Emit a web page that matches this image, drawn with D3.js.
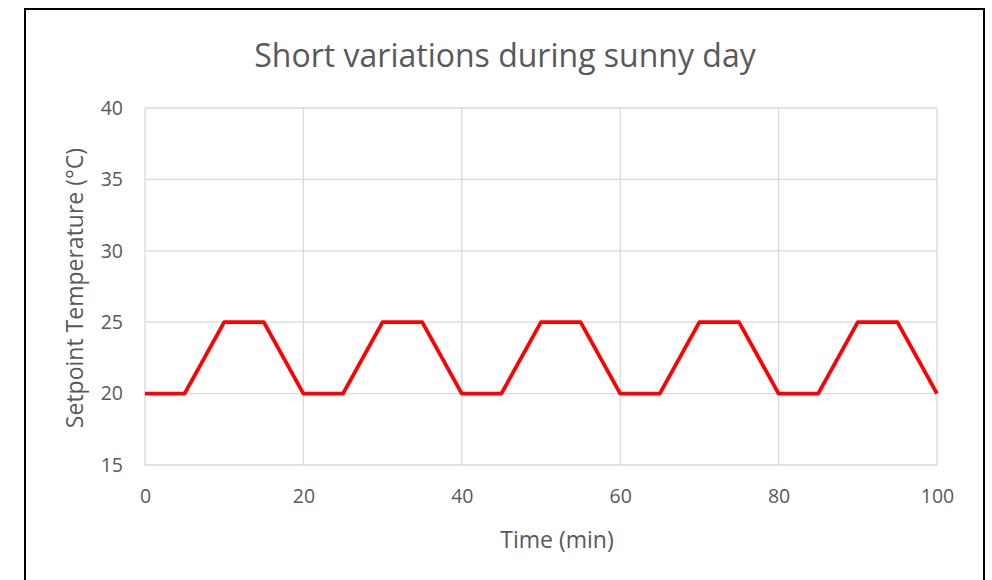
<!DOCTYPE html>
<html>
<head>
<meta charset="utf-8">
<script src="https://cdn.jsdelivr.net/npm/d3@7"></script>
<style>
  html, body { margin: 0; padding: 0; background: #fff; }
  svg { display: block; }
  text { font-family: "Open Sans", "Noto Sans", sans-serif; fill: #595959; }
</style>
</head>
<body>
<svg id="chart" width="992" height="580"></svg>
<script>
// Setpoint profile: time (min) and temperature (°C)
const timeMin = [0, 5, 10, 15, 20, 25, 30, 35, 40, 45, 50, 55, 60, 65, 70, 75, 80, 85, 90, 95, 100];
const setpoint = [20, 20, 25, 25, 20, 20, 25, 25, 20, 20, 25, 25, 20, 20, 25, 25, 20, 20, 25, 25, 20];
const xTicks = [0, 20, 40, 60, 80, 100];
const yTicks = [15, 20, 25, 30, 35, 40];

const titleText = "Short variations during sunny day";
const xTitle = "Time (min)";
const yTitle = "Setpoint Temperature (°C)";

const svg = d3.select("#chart");
const plot = { left: 145, right: 937, top: 108, bottom: 465 };

// Outer chart frame
svg.append("rect")
  .attr("x", 25).attr("y", 9)
  .attr("width", 959).attr("height", 590)
  .attr("fill", "#fff")
  .attr("stroke", "#000").attr("stroke-width", 2);

const x = d3.scaleLinear().domain([0, 100]).range([plot.left, plot.right]);
const y = d3.scaleLinear().domain([15, 40]).range([plot.bottom, plot.top]);

// Gridlines
const grid = svg.append("g").attr("stroke", "#d9d9d9").attr("stroke-width", 1.3);
grid.selectAll("line.h").data(yTicks).join("line")
  .attr("x1", plot.left).attr("x2", plot.right)
  .attr("y1", d => y(d)).attr("y2", d => y(d));
grid.selectAll("line.v").data(xTicks).join("line")
  .attr("y1", plot.top).attr("y2", plot.bottom)
  .attr("x1", d => x(d)).attr("x2", d => x(d));

// Axes (labels only)
const xAxis = svg.append("g")
  .attr("transform", `translate(0,${plot.bottom})`)
  .call(d3.axisBottom(x).tickValues(xTicks).tickSize(0).tickPadding(24));
const yAxis = svg.append("g")
  .attr("transform", `translate(${plot.left},0)`)
  .call(d3.axisLeft(y).tickValues(yTicks).tickSize(0).tickPadding(22));
[xAxis, yAxis].forEach(a => {
  a.select(".domain").remove();
  a.selectAll("text").attr("font-size", 19.5).attr("fill", "#595959")
    .style("font-family", '"Open Sans", "Noto Sans", sans-serif');
});

// Series line
const line = d3.line().x((d, i) => x(timeMin[i])).y(d => y(d));
svg.append("path")
  .datum(setpoint)
  .attr("d", line)
  .attr("fill", "none")
  .attr("stroke", "#ff0000")
  .attr("stroke-width", 3.8)
  .attr("stroke-linejoin", "round");

// Titles
svg.append("text")
  .attr("x", 505).attr("y", 67)
  .attr("text-anchor", "middle")
  .attr("font-size", 32)
  .text(titleText);

svg.append("text")
  .attr("x", 557).attr("y", 548)
  .attr("text-anchor", "middle")
  .attr("font-size", 23)
  .text(xTitle);

svg.append("text")
  .attr("transform", `translate(83,288) rotate(-90)`)
  .attr("text-anchor", "middle")
  .attr("font-size", 23)
  .text(yTitle);
</script>
</body>
</html>
